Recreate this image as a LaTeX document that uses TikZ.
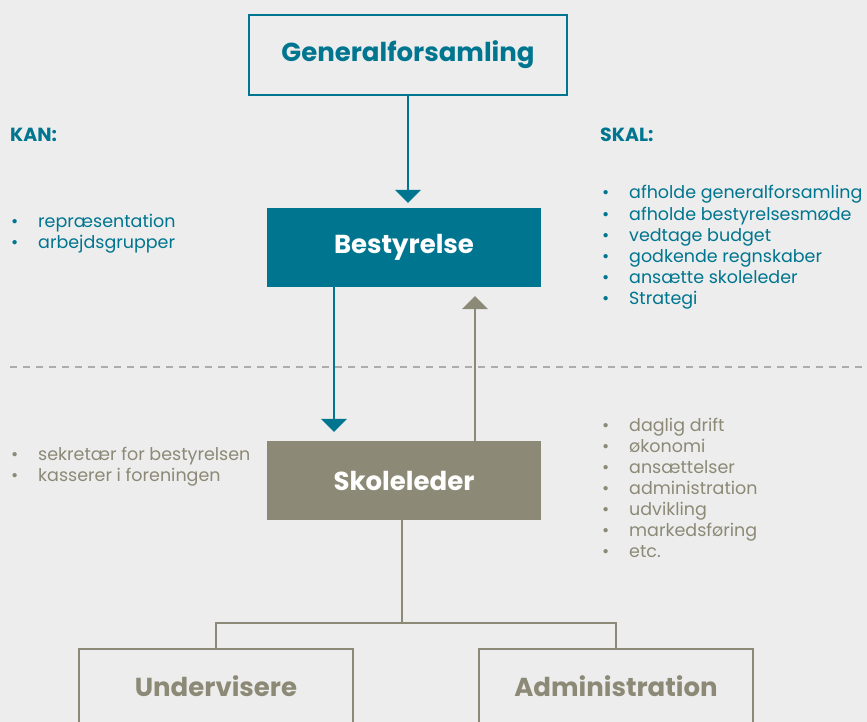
\documentclass[tikz,border=0pt]{standalone}
\usepackage{fontspec}
\setmainfont{Poppins}
\usetikzlibrary{positioning, arrows.meta}

\definecolor{orgteal}{RGB}{0,117,143}
\definecolor{orggray}{RGB}{140,138,118}
\definecolor{orgbg}{RGB}{237,237,237}
\definecolor{sepgray}{RGB}{172,172,172}

\newcommand{\bul}{\makebox[28pt][l]{\hspace{1pt}•}}

\begin{document}
\begin{tikzpicture}[
    x=1pt, y=-1pt,
    % Styles
    outline-teal/.style={draw=orgteal, line width=1.5pt, text=orgteal, minimum width=318pt, minimum height=80pt, inner sep=0pt, font=\fontsize{26}{30}\selectfont\bfseries},
    solid-box/.style={minimum width=274pt, minimum height=79pt, inner sep=0pt, text=white, font=\fontsize{26}{30}\selectfont\bfseries},
    outline-gray/.style={draw=orggray, line width=1.5pt, text=orggray, minimum width=274pt, minimum height=74pt, inner sep=0pt, font=\fontsize{26}{30}\selectfont\bfseries},
    head/.style={anchor=base west, inner sep=0pt, text=orgteal, font=\fontsize{19}{22}\selectfont\bfseries},
    item/.style={anchor=base west, inner sep=0pt, font=\fontsize{17.5}{21}\selectfont},
    teal-arrow/.style={-{Triangle[width=26pt, length=13pt]}, orgteal, line width=1.5pt},
    gray-arrow/.style={-{Triangle[width=26pt, length=13pt]}, orggray, line width=1.5pt},
    tree-line/.style={orggray, line width=1.5pt},
    separator/.style={sepgray, line width=1.3pt, dash pattern=on 7pt off 6pt},
]

% Background
\fill[orgbg] (0,0) rectangle (867,722);
\clip (0,0) rectangle (867,722);

% Boxes
\node[outline-teal] (genf) at (408,55) {Generalforsamling};
\node[solid-box, fill=orgteal] (bestyr) at (404,247.5) {Bestyrelse};
\node[solid-box, fill=orggray] (skole) at (404,480.5) {Skoleleder};
\node[outline-gray] (underv) at (216,686) {Undervisere};
\node[outline-gray] (admin) at (616,686) {Administration};

% Headings
\node[head] (kan) at (10,142) {KAN:};
\node[head] (skal) at (600,142) {SKAL:};

% KAN list (teal)
\foreach \txt [count=\i] in {repræsentation, arbejdsgrupper}
    \node[item, text=orgteal] (kan-\i) at (10,206+21*\i) {\bul\txt};

% SKAL list (teal)
\foreach \txt [count=\i] in {afholde generalforsamling, afholde bestyrelsesmøde, vedtage budget, godkende regnskaber, ansætte skoleleder, Strategi}
    \node[item, text=orgteal] (skal-\i) at (601,178+21*\i) {\bul\txt};

% Skoleleder lists (gray)
\foreach \txt [count=\i] in {sekretær for bestyrelsen, kasserer i foreningen}
    \node[item, text=orggray] (sek-\i) at (10,439+21*\i) {\bul\txt};

\foreach \txt [count=\i] in {daglig drift, økonomi, ansættelser, administration, udvikling, markedsføring, etc.}
    \node[item, text=orggray] (drift-\i) at (601,410+21*\i) {\bul\txt};

% Separator
\coordinate (sep-l) at (10,367);
\coordinate (sep-r) at (867,367);
\draw[separator] (sep-l) -- (sep-r);

% Arrows
\draw[teal-arrow, shorten >=5pt] (genf.south) -- (genf.south |- bestyr.north);
\draw[teal-arrow, shorten >=9pt] ([xshift=-70pt]bestyr.south) -- ([xshift=-70pt]skole.north);
\draw[gray-arrow, shorten >=9pt] ([xshift=71pt]skole.north) -- ([xshift=71pt]bestyr.south);

% Tree to staff boxes
\coordinate (fork) at (402,623);
\draw[tree-line] (skole.south -| fork) -- (fork);
\draw[tree-line] (underv.north) |- (fork) -| (admin.north);

\end{tikzpicture}
\end{document}
